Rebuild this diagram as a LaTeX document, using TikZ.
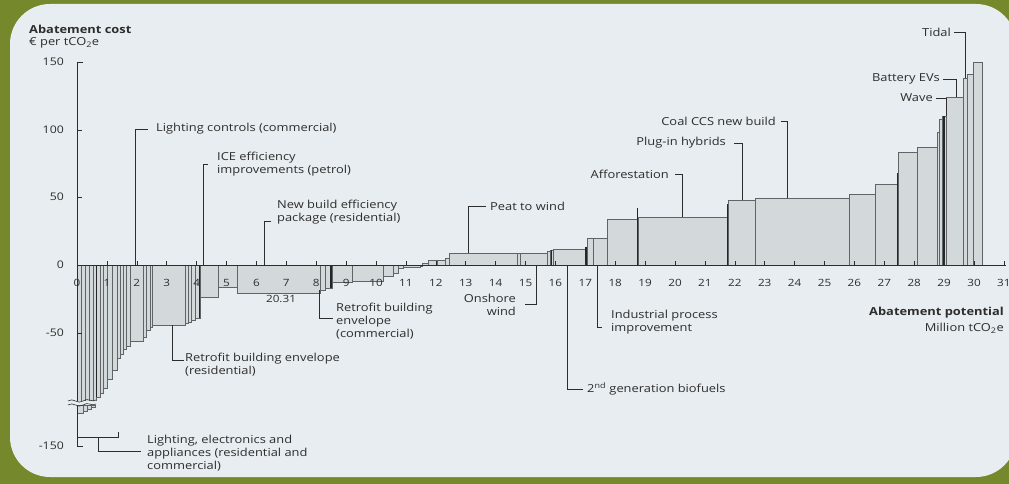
\documentclass[tikz,border=0pt]{standalone}
\usepackage{fontspec}
\setmainfont{Open Sans}[FakeStretch=1.17]
\definecolor{olivebg}{RGB}{117,136,43}
\definecolor{panelbg}{RGB}{231,237,240}
\definecolor{barfill}{RGB}{211,217,219}
\definecolor{barline}{RGB}{95,100,103}
\definecolor{inkc}{RGB}{45,45,45}
\begin{document}
\begin{tikzpicture}[x=1pt,y=-1pt,
  bar/.style={fill=barfill,draw=barline,line width=0.6pt},
  thickln/.style={draw=black!85,line width=1.2pt},
  axisln/.style={draw=inkc,line width=0.8pt},
  lead/.style={draw=inkc,line width=0.8pt},
  lbl/.style={inner sep=0pt,text=inkc,font=\fontsize{11}{13}\selectfont,align=left},
  lblr/.style={inner sep=0pt,text=inkc,font=\fontsize{11}{13}\selectfont,align=right},
  xlab/.style={inner sep=0pt,text=inkc,font=\fontsize{10}{12}\selectfont},
  ylab/.style={inner sep=0pt,text=inkc,font=\fontsize{10.5}{12}\selectfont,anchor=east}]
\useasboundingbox (0,0) rectangle (1009,484);
\clip (0,0) rectangle (1009,484);
\fill[olivebg] (0,0) rectangle (1009,484);
\fill[panelbg,rounded corners=40pt] (10,4) rectangle (1016,477);

% negative bars
\foreach \a/\b/\c in {77/81/401,81/85/401,85/89/401,89/93/401,93/96/401,
  96/100/397,100/103/393,103/107/388,107/112/379,112/117/370,117/120/358,
  120/123/354,123/126/349,126/130/346,130/143/341,143/146/337,146/150/330,
  150/152/327,152/185/325,185/188/323,188/191/322,191/195/320,195/200/318,
  200/218/297,218/237/287,237/320/293,320/325/290,325/330/288,330/332/288,
  332/352/282,352/383/281,383/393/276,393/398/273,398/403/268,403/420/267}
  \filldraw[bar] (\a,265) rectangle (\b,\c);
% stubs below the break
\foreach \a/\b/\c in {77/83/413,83/87/411,87/91/409,91/95/407}
  \filldraw[bar] (\a,405) rectangle (\b,\c);
% positive bars
\foreach \a/\b/\c in {420/422/266,422/428/263,428/437/260,437/445/260,445/449/258,
  449/517/253,517/520/253,520/547/253,547/550/251,550/553/250,553/585/249.5,
  585/587/248,587/593/238,593/607/238,607/637/219,638/727/217,728/755/200,
  755/849/198,849/875/194,875/897/184,898/917/152,917/937/147,937/939/132,
  939/942/119,942/946/116,946/963/97,963/967/78,967/973/74,973/982/62}
  \filldraw[bar] (\a,\c) rectangle (\b,265);
% darker separators
\foreach \a/\c in {96.5/397,199.5/318,331/288}
  \draw[thickln] (\a,265) -- (\a,\c);
\foreach \a/\c in {551.5/250,586/247,637.5/208,727.5/204,897.5/173,944/116}
  \draw[thickln] (\a,265) -- (\a,\c);

% axes
\draw[axisln] (77,265) -- (1006,265);
\foreach \i in {0,...,31} {
  \draw[axisln,line width=0.6pt] ({77+29.9*\i},265) -- ++(0,-4);
  \node[xlab] (xl\i) at ({77+29.9*\i},283) {\i};
}
\draw[axisln] (83,62) -- (77,62) -- (77,446) -- (83,446);
\foreach \y in {130,197,333} \draw[axisln] (77,\y) -- (82,\y);
% axis break
\fill[panelbg] (67,401) rectangle (97,405);
\draw[axisln,line width=0.6pt] (68,401) .. controls (73,397) and (78,405) .. (83,401) .. controls (88,397) and (92,403) .. (96,400);
\draw[axisln,line width=0.6pt] (68,405) .. controls (73,401) and (78,409) .. (83,405) .. controls (88,401) and (92,407) .. (96,404);

\node[ylab] (y150) at (64,62) {150};
\node[ylab] (y100) at (64,130) {100};
\node[ylab] (y50) at (64,197) {50};
\node[ylab] (y0) at (64,265) {0};
\node[ylab] (ym50) at (64,333) {-50};
\node[ylab] (ym150) at (64,446) {-150};

\node[lbl,anchor=west] (ytitle) at (29,29) {\textbf{Abatement cost}};
\node[lbl,anchor=west] (yunit) at (29,43) {€ per tCO\textsubscript{2}e};
\node[lblr,anchor=east] (xtitle) at (1004,313) {\textbf{Abatement potential}};
\node[lblr,anchor=east] (xunit) at (1004,328) {Million tCO\textsubscript{2}e};
\node[xlab] (v2031) at (281,299) {20.31};

% upper labels
\coordinate (lcE) at (135,265);
\node[lbl,anchor=west] (lc) at (156,129) {Lighting controls (commercial)};
\draw[lead] (lc.west) ++(-8,0) -| (lcE);

\coordinate (iceE) at (203,265);
\node[lbl,anchor=west] (ice) at (217,164) {ICE efficiency\\improvements (petrol)};
\draw[lead] (ice.west) ++(-9,0) -| (iceE);

\coordinate (nbE) at (264,265);
\node[lbl,anchor=west] (nb) at (277,212) {New build efficiency\\package (residential)};
\draw[lead] (nb.west) ++(-6,9) -| (nbE);

\coordinate (ptwE) at (468,253);
\node[lbl,anchor=west] (ptw) at (490,206) {Peat to wind};
\draw[lead] (ptw.west) ++(-4,0) -| (ptwE);

\coordinate (affE) at (682,217);
\node[lblr,anchor=east] (aff) at (669,174) {Afforestation};
\draw[lead] (aff.east) ++(6,0) -| (affE);

\coordinate (pihE) at (742,200);
\node[lblr,anchor=east] (pih) at (726,143) {Plug-in hybrids};
\draw[lead] (pih.east) ++(8,0) -| (pihE);

\coordinate (ccsE) at (787,198);
\node[lblr,anchor=east] (ccs) at (776,121) {Coal CCS new build};
\draw[lead] (ccs.east) ++(5,0) -| (ccsE);

\coordinate (bevE) at (956,97);
\node[lblr,anchor=east] (bev) at (940,79) {Battery EVs};
\draw[lead] (bev.east) ++(3,0) -| (bevE);

\coordinate (wavE) at (946,116);
\node[lblr,anchor=east] (wav) at (933,98) {Wave};
\draw[lead] (wav.east) ++(3,0) -| (wavE);

\coordinate (tidE) at (965,78);
\node[lblr,anchor=east] (tid) at (951,32) {Tidal};
\draw[lead] (tid.east) ++(3,0) -| (tidE);

% lower labels
\coordinate (rrbE) at (172,325);
\node[lbl,anchor=west] (rrb) at (185,365) {Retrofit building envelope\\(residential)};
\draw[lead] (rrbE) |- ([xshift=-1pt,yshift=5pt]rrb.west);

\coordinate (rcbE) at (319,290);
\node[lbl,anchor=west] (rcb) at (336,321) {Retrofit building\\envelope\\(commercial)};
\draw[lead] (rcbE) |- ([xshift=-3pt,yshift=3pt]rcb.west);

\coordinate (onwE) at (536,265);
\node[lblr,anchor=east] (onw) at (516,304.5) {Onshore\\wind};
\draw[lead] (onwE) |- ([xshift=9pt]onw.east);

\coordinate (ipiE) at (597,265);
\node[lbl,anchor=west] (ipi) at (611,322.5) {Industrial process\\improvement};
\draw[lead] (ipiE) |- ([xshift=-9pt,yshift=-4.5pt]ipi.west);

\coordinate (bioE) at (567,265);
\node[lbl,anchor=west] (bio) at (587,389) {2\textsuperscript{nd} generation biofuels};
\draw[lead] (bioE) |- ([xshift=-4pt]bio.west);

\node[lbl,anchor=west] (lea) at (147,453) {Lighting, electronics and\\appliances (residential and\\commercial)};
\coordinate (brL) at (77,432);
\coordinate (brR) at (118,432);
\coordinate (brM) at (98,437);
\draw[lead] (brL) |- (brR |- brM) -- (brR);
\draw[lead] (brM) |- ([xshift=-6pt,yshift=2pt]lea.west);
\end{tikzpicture}
\end{document}
